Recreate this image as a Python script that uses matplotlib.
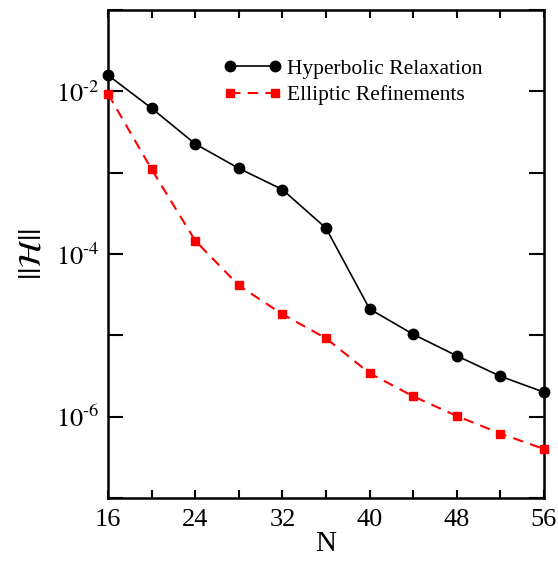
import math
import matplotlib
matplotlib.use("Agg")
import matplotlib.pyplot as plt
from matplotlib.ticker import FixedLocator, NullFormatter, FuncFormatter

# resolution N
n_vals = [16, 20, 24, 28, 32, 36, 40, 44, 48, 52, 56]

# constraint norm ||H||
hyperbolic = [1.58e-2, 6.2e-3, 2.26e-3, 1.13e-3, 6.2e-4, 2.08e-4,
              2.11e-5, 1.03e-5, 5.6e-6, 3.14e-6, 2.0e-6]
elliptic = [9.3e-3, 1.1e-3, 1.46e-4, 4.1e-5, 1.82e-5, 9.2e-6,
            3.42e-6, 1.78e-6, 1.02e-6, 6.2e-7, 4.0e-7]

plt.rcParams['font.family'] = ['Liberation Serif', 'DejaVu Serif']
plt.rcParams['mathtext.fontset'] = 'stix'

fig = plt.figure(figsize=(5.58, 5.61), dpi=100)
ax = fig.add_axes([108 / 558, 63 / 561, 436 / 558, 488 / 561])

ax.plot(n_vals, hyperbolic, color='black', lw=1.2, marker='o', ms=7.5,
        label='Hyperbolic Relaxation', clip_on=False, zorder=3)
ax.plot(n_vals, elliptic, color='#ff0000', lw=1.5, ls=(0, (5, 3.5)), marker='s',
        ms=6, label='Elliptic Refinements', clip_on=False, zorder=3)

ax.set_yscale('log')
ax.set_xlim(16, 56)
ax.set_ylim(1e-7, 1e-1)


def exp_label(v, pos):
    # "10" with a small hyphen exponent, like the original
    return r'$10^{\text{-%d}}$' % abs(round(math.log10(v)))


ax.xaxis.set_major_locator(FixedLocator([16, 24, 32, 40, 48, 56]))
ax.xaxis.set_minor_locator(FixedLocator([20, 28, 36, 44, 52]))
ax.yaxis.set_major_locator(FixedLocator([1e-6, 1e-4, 1e-2]))
ax.yaxis.set_minor_locator(FixedLocator([1e-7, 1e-5, 1e-3, 1e-1]))
ax.yaxis.set_minor_formatter(NullFormatter())
ax.yaxis.set_major_formatter(FuncFormatter(exp_label))

ax.tick_params(which='both', direction='in', top=True, right=True,
               labelsize=19, width=1.5)
ax.tick_params(axis='x', which='both', length=6, pad=8)
ax.tick_params(axis='y', which='both', length=11, pad=6)
for s in ax.spines.values():
    s.set_linewidth(1.8)

ax.set_xlabel('N', fontsize=21, labelpad=0)
ax.set_ylabel(r'$||\mathcal{H}||$', fontsize=23, labelpad=6)

ax.legend(loc='upper left', bbox_to_anchor=(0.22, 0.94), frameon=False,
          numpoints=2, handlelength=2.7, handletextpad=0.25, fontsize=15.5,
          labelspacing=0.3)

fig.savefig('out.png', dpi=100)
